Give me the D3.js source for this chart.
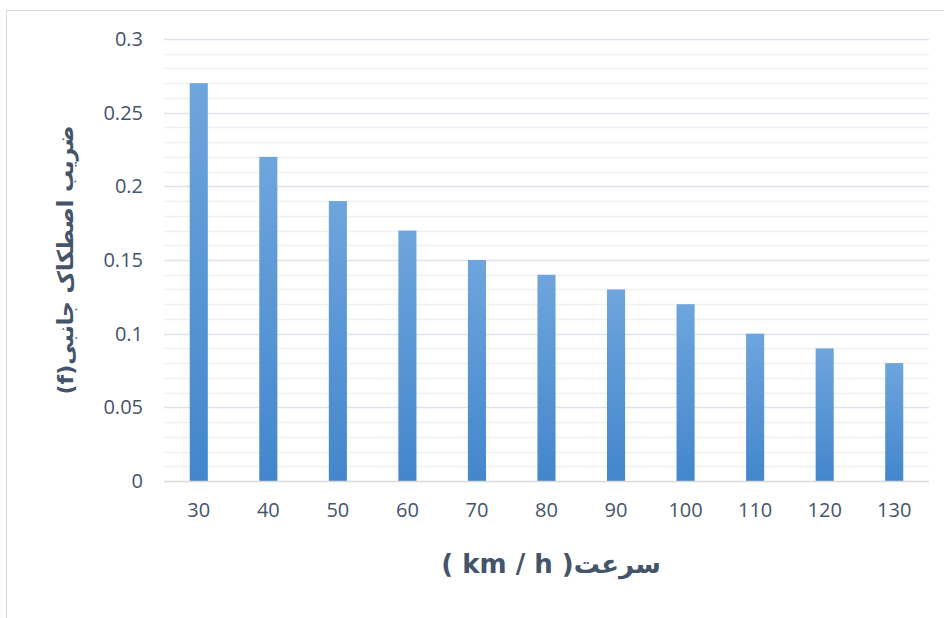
<!DOCTYPE html>
<html>
<head>
<meta charset="utf-8">
<script src="https://cdn.jsdelivr.net/npm/d3@7"></script>
<style>
  html, body { margin: 0; padding: 0; background: #fff; }
  svg { display: block; }
  text { font-family: "Open Sans", Lato, "DejaVu Sans", sans-serif; }
</style>
</head>
<body>
<svg id="chart" width="944" height="618"></svg>
<script>
// Side friction coefficient by design speed
const speeds = ["30", "40", "50", "60", "70", "80", "90", "100", "110", "120", "130"];
const frictionValues = [0.27, 0.22, 0.19, 0.17, 0.15, 0.14, 0.13, 0.12, 0.10, 0.09, 0.08];
const yMajorTicks = [0, 0.05, 0.1, 0.15, 0.2, 0.25, 0.3];
const yTickLabels = ["0", "0.05", "0.1", "0.15", "0.2", "0.25", "0.3"];
const yMinorTicks = d3.range(0, 31).map(i => i / 100);
const xTitle = "سرعت( km / h )";
const yTitle = "ضریب اصطکاک جانبی(f)";

const svg = d3.select("#chart");
const W = 944, H = 618;
const margin = { left: 164, right: 15, top: 39, bottom: 137 };
const plotW = W - margin.left - margin.right;
const plotH = H - margin.top - margin.bottom;

// chart frame
svg.append("rect")
  .attr("x", 6.5).attr("y", 10.5)
  .attr("width", W).attr("height", H)
  .attr("fill", "#fff").attr("stroke", "#d9d9d9");

const defs = svg.append("defs");
const grad = defs.append("linearGradient")
  .attr("id", "barGrad").attr("x1", 0).attr("y1", 0).attr("x2", 0).attr("y2", 1);
grad.append("stop").attr("offset", "0%").attr("stop-color", "#6ea5dd");
grad.append("stop").attr("offset", "100%").attr("stop-color", "#4386cc");

const x = d3.scaleBand().domain(speeds).range([0, plotW]).paddingInner(0.74).paddingOuter(0.37);
const y = d3.scaleLinear().domain([0, 0.3]).range([plotH, 0]);

const g = svg.append("g").attr("transform", `translate(${margin.left},${margin.top})`);

// minor gridlines
g.append("g").selectAll("line")
  .data(yMinorTicks.filter(v => Math.round(v * 100) % 5 !== 0))
  .join("line")
  .attr("x1", 0).attr("x2", plotW)
  .attr("y1", d => Math.round(y(d)) + 0.5).attr("y2", d => Math.round(y(d)) + 0.5)
  .attr("stroke", "#f0f0f0").attr("stroke-width", 1.3);

// major gridlines
g.append("g").selectAll("line")
  .data(yMajorTicks.filter(v => v > 0))
  .join("line")
  .attr("x1", 0).attr("x2", plotW)
  .attr("y1", d => Math.round(y(d)) + 0.5).attr("y2", d => Math.round(y(d)) + 0.5)
  .attr("stroke", "#dde3ea").attr("stroke-width", 1.5);

// bars
g.append("g").selectAll("rect")
  .data(frictionValues)
  .join("rect")
  .attr("x", (d, i) => x(speeds[i]))
  .attr("y", d => y(d))
  .attr("width", x.bandwidth())
  .attr("height", d => plotH - y(d))
  .attr("fill", "url(#barGrad)");

// baseline
g.append("line")
  .attr("x1", 0).attr("x2", plotW)
  .attr("y1", plotH + 0.5).attr("y2", plotH + 0.5)
  .attr("stroke", "#d9d9d9").attr("stroke-width", 1.5);

// y axis labels
const yAxis = d3.axisLeft(y).tickValues(yMajorTicks)
  .tickFormat((d, i) => yTickLabels[i]).tickSize(0).tickPadding(21);
const ya = g.append("g").call(yAxis);
ya.select(".domain").remove();
ya.selectAll("text")
  .attr("font-size", 20).attr("fill", "#44546a")
  .style("font-family", "'Open Sans', Lato, 'DejaVu Sans', sans-serif");

// x axis labels
const xAxis = d3.axisBottom(x).tickSize(0).tickPadding(22);
const xa = g.append("g").attr("transform", `translate(0,${plotH})`).call(xAxis);
xa.select(".domain").remove();
xa.selectAll("text")
  .attr("font-size", 20).attr("fill", "#44546a")
  .style("font-family", "'Open Sans', Lato, 'DejaVu Sans', sans-serif");

// axis titles (right-to-left paragraphs)
svg.append("text")
  .attr("x", 551).attr("y", 573)
  .attr("text-anchor", "middle")
  .attr("direction", "rtl")
  .style("direction", "rtl").style("unicode-bidi", "embed")
  .attr("font-size", 26).attr("font-weight", "bold").attr("fill", "#44546a")
  .style("font-family", "'DejaVu Sans', sans-serif")
  .text(xTitle);

svg.append("text")
  .attr("transform", "translate(73,260) rotate(-90)")
  .attr("text-anchor", "middle")
  .attr("direction", "rtl")
  .style("direction", "rtl").style("unicode-bidi", "embed")
  .attr("font-size", 22).attr("font-weight", "bold").attr("fill", "#44546a")
  .style("font-family", "'DejaVu Sans', sans-serif")
  .text(yTitle);
</script>
</body>
</html>
